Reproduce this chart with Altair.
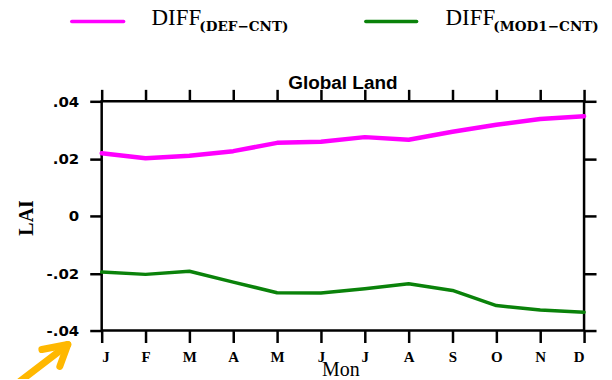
import altair as alt
import pandas as pd

# ---- data ----
month_letters = ["J", "F", "M", "A", "M", "J", "J", "A", "S", "O", "N", "D"]
month_idx = list(range(1, 13))
diff_def_cnt = [0.0219, 0.0201, 0.0210, 0.0226, 0.0255, 0.0259,
                0.0275, 0.0266, 0.0294, 0.0318, 0.0338, 0.0348]
diff_mod1_cnt = [-0.0196, -0.0204, -0.0193, -0.0231, -0.0268, -0.0269,
                 -0.0254, -0.0237, -0.0260, -0.0313, -0.0328, -0.0336]
series_keys = ["DEF-CNT", "MOD1-CNT"]
series_colors = ["#ff00ff", "#0a820a"]
series_widths = [4.5, 3.5]
legend_main = ["DIFF", "DIFF"]
legend_sub = ["(DEF\u2212CNT)", "(MOD1\u2212CNT)"]
y_ticks = [-0.04, -0.02, 0, 0.02, 0.04]
title_text = "Global Land"
y_title = "LAI"
x_title = "Mon"

df = pd.DataFrame({
    "m": month_idx * 2,
    "v": diff_def_cnt + diff_mod1_cnt,
    "s": [series_keys[0]] * 12 + [series_keys[1]] * 12,
})

x_scale = alt.Scale(domain=[1, 12], nice=False, zero=False)
y_scale = alt.Scale(domain=[-0.04, 0.04], nice=False, zero=False)

month_expr = "[" + ",".join("'%s'" % m for m in month_letters) + "][datum.value - 1]"
y_expr = ("datum.value == 0 ? '0' : (datum.value < 0 ? '-' : '') + "
          "replace(format(abs(datum.value), '.2f'), '0.', '.')")

common_axis = dict(grid=False, domain=False, tickColor="black", tickWidth=2.5,
                   tickSize=12, title=None, labelColor="black")

lines = alt.Chart(df).mark_line(strokeCap="round", strokeJoin="round").encode(
    x=alt.X("m:Q", scale=x_scale,
            axis=alt.Axis(orient="bottom", values=month_idx, labelExpr=month_expr,
                          labelFont="Liberation Serif", labelFontWeight="bold",
                          labelFontSize=15, labelPadding=7, **common_axis)),
    y=alt.Y("v:Q", scale=y_scale,
            axis=alt.Axis(orient="left", values=y_ticks, labelExpr=y_expr,
                          labelFont="DejaVu Sans", labelFontWeight="bold",
                          labelFontSize=15, labelPadding=11, **common_axis)),
    color=alt.Color("s:N", scale=alt.Scale(domain=series_keys, range=series_colors), legend=None),
    strokeWidth=alt.StrokeWidth("s:N", scale=alt.Scale(domain=series_keys, range=series_widths), legend=None),
)

frame_axes = alt.Chart(df).mark_line(opacity=0).encode(
    x=alt.X("m:Q", scale=x_scale,
            axis=alt.Axis(orient="top", values=month_idx, labels=False, **common_axis)),
    y=alt.Y("v:Q", scale=y_scale,
            axis=alt.Axis(orient="right", values=y_ticks, labels=False, **common_axis)),
    detail="s:N",
)

one = pd.DataFrame({"k": [0]})

def txt(text, x, y, font, size, weight="normal", align="left", baseline="alphabetic", angle=0):
    return alt.Chart(one).mark_text(
        text=text, font=font, fontSize=size, fontWeight=weight, align=align,
        baseline=baseline, angle=angle, color="black"
    ).encode(x=alt.value(x), y=alt.value(y))

def seg(x, y, x2, y2, color, width):
    return alt.Chart(one).mark_rule(color=color, strokeWidth=width, strokeCap="round").encode(
        x=alt.value(x), y=alt.value(y), x2=alt.value(x2), y2=alt.value(y2))

annotations = [
    txt(title_text, 242, -12, "Liberation Sans", 19, "bold", "center"),
    txt(y_title, -75, 117, "Liberation Serif", 20, "bold", "center", "middle", 270),
    txt(x_title, 240, 276, "Liberation Serif", 20, "normal", "center"),
    # legend entry 1
    seg(-30, -80, 22, -80, series_colors[0], 3.5),
    txt(legend_main[0], 50, -77, "Liberation Serif", 23),
    txt(legend_sub[0], 98, -71, "DejaVu Serif", 13.6, "bold"),
    # legend entry 2
    seg(265, -80, 316, -80, series_colors[1], 3.5),
    txt(legend_main[1], 345, -77, "Liberation Serif", 23),
    txt(legend_sub[1], 393, -71, "DejaVu Serif", 13.6, "bold"),
    # yellow arrow
    seg(-82, 281, -35, 245, "#ffb800", 7),
    seg(-34, 244, -60, 249, "#ffb800", 7),
    seg(-34, 244, -42, 266, "#ffb800", 7),
]

chart = alt.layer(lines, frame_axes, *annotations).resolve_axis(
    x="independent", y="independent"
).properties(
    width=484, height=230,
    autosize=alt.AutoSizeParams(type="none"),
    padding={"left": 94, "top": 93, "right": 20, "bottom": 48},
).configure_view(stroke="black", strokeWidth=2.5)

chart.save("out.html", embed_options={"renderer": "svg", "actions": False})
